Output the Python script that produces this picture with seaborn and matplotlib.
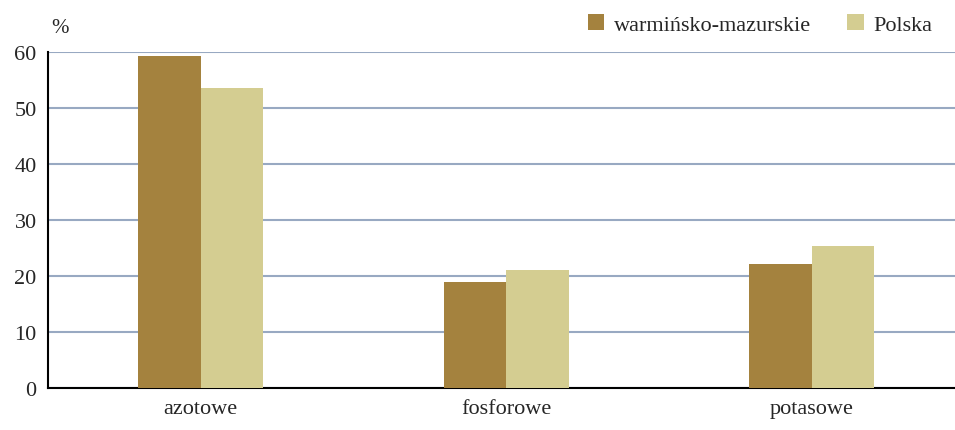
import matplotlib
matplotlib.use("Agg")
import matplotlib.pyplot as plt
import seaborn as sns
import pandas as pd

# Dane
kategorie = ['azotowe', 'fosforowe', 'potasowe']
warminsko_mazurskie = [59.3, 18.9, 22.1]
polska = [53.6, 21.1, 25.4]
serie = ['warmińsko-mazurskie', 'Polska']
kolory = ['#A4823E', '#D4CD91']

df = pd.DataFrame({
    'kategoria': kategorie * 2,
    'seria': [serie[0]] * 3 + [serie[1]] * 3,
    'wartosc': warminsko_mazurskie + polska,
})

sns.set_style('white')
plt.rcParams['font.family'] = ['Liberation Serif', 'DejaVu Serif']

fig, ax = plt.subplots(figsize=(9.55, 4.31), dpi=100)
fig.subplots_adjust(left=0.05, right=1.01, top=0.877, bottom=0.097)

sns.barplot(data=df, x='kategoria', y='wartosc', hue='seria', palette=kolory,
            width=0.41, saturation=1, linewidth=0, ax=ax, zorder=3)

ax.set_ylim(0, 60)
ax.set_yticks(range(0, 61, 10))
ax.yaxis.grid(True, color='#98A9C2', linewidth=1.5, zorder=0)
ax.set_axisbelow(True)
ax.set_xlabel('')
ax.set_ylabel('')
ax.tick_params(axis='both', labelsize=16, length=0, pad=8)
for s in ['top', 'right']:
    ax.spines[s].set_visible(False)
ax.spines['left'].set_color('black')
ax.spines['left'].set_linewidth(1.5)
ax.spines['bottom'].set_color('black')
ax.spines['bottom'].set_linewidth(1.5)

ax.text(0.004, 1.045, '%', transform=ax.transAxes, fontsize=15, ha='left', va='bottom')

ax.legend(loc='lower right', bbox_to_anchor=(0.975, 1.025), ncol=2, frameon=False,
          fontsize=16, handlelength=0.75, handleheight=0.75, columnspacing=1.6,
          handletextpad=0.45, borderaxespad=0)

plt.savefig('out.png', dpi=100)
print('out.png zapisany')
